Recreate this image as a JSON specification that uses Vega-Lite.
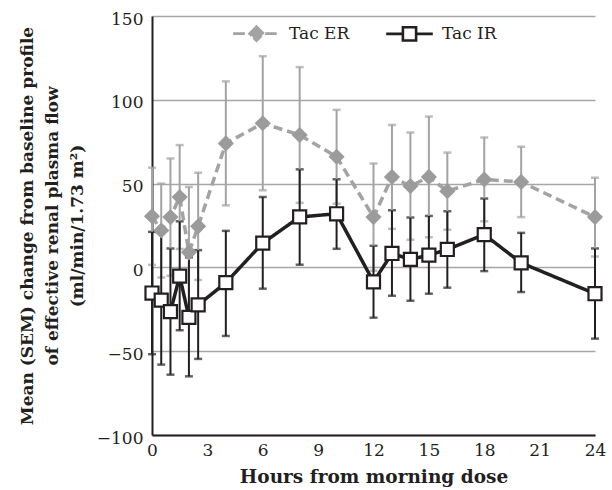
{
  "$schema": "https://vega.github.io/schema/vega-lite/v6.json",
  "width": 443,
  "height": 419,
  "autosize": {"type": "none"},
  "padding": {"left": 152, "top": 16, "right": 17, "bottom": 55},
  "config": {"view": {"stroke": null}, "font": "DejaVu Serif"},
  "data": {
    "values": [
      {"group": "Tac ER", "hour": 0, "mean": 30.5, "lower": 1.5, "upper": 59.5},
      {"group": "Tac ER", "hour": 0.5, "mean": 22, "lower": -6, "upper": 50},
      {"group": "Tac ER", "hour": 1, "mean": 30, "lower": -5, "upper": 65},
      {"group": "Tac ER", "hour": 1.5, "mean": 42, "lower": 11, "upper": 73},
      {"group": "Tac ER", "hour": 2, "mean": 9, "lower": -30, "upper": 48},
      {"group": "Tac ER", "hour": 2.5, "mean": 24.5, "lower": -7.5, "upper": 56.5},
      {"group": "Tac ER", "hour": 4, "mean": 74, "lower": 37, "upper": 111},
      {"group": "Tac ER", "hour": 6, "mean": 86, "lower": 46, "upper": 126},
      {"group": "Tac ER", "hour": 8, "mean": 79, "lower": 38.5, "upper": 119.5},
      {"group": "Tac ER", "hour": 10, "mean": 66, "lower": 38, "upper": 94},
      {"group": "Tac ER", "hour": 12, "mean": 30, "lower": -2, "upper": 62},
      {"group": "Tac ER", "hour": 13, "mean": 54, "lower": 23, "upper": 85},
      {"group": "Tac ER", "hour": 14, "mean": 48.5, "lower": 16.5, "upper": 80.5},
      {"group": "Tac ER", "hour": 15, "mean": 54, "lower": 18, "upper": 90},
      {"group": "Tac ER", "hour": 16, "mean": 45.5, "lower": 22.5, "upper": 68.5},
      {"group": "Tac ER", "hour": 18, "mean": 52.5, "lower": 27.5, "upper": 77.5},
      {"group": "Tac ER", "hour": 20, "mean": 51, "lower": 30, "upper": 72},
      {"group": "Tac ER", "hour": 24, "mean": 30, "lower": 6.5, "upper": 53.5},
      {"group": "Tac IR", "hour": 0, "mean": -15.3, "lower": -51.8, "upper": 21.2},
      {"group": "Tac IR", "hour": 0.5, "mean": -19.5, "lower": -58, "upper": 21},
      {"group": "Tac IR", "hour": 1, "mean": -26.4, "lower": -64, "upper": 11.3},
      {"group": "Tac IR", "hour": 1.5, "mean": -5.2, "lower": -37.5, "upper": 27.5},
      {"group": "Tac IR", "hour": 2, "mean": -29.8, "lower": -65, "upper": 6},
      {"group": "Tac IR", "hour": 2.5, "mean": -22.4, "lower": -54.6, "upper": 10.3},
      {"group": "Tac IR", "hour": 4, "mean": -9.1, "lower": -40.9, "upper": 21.8},
      {"group": "Tac IR", "hour": 6, "mean": 14.5, "lower": -12.7, "upper": 42},
      {"group": "Tac IR", "hour": 8, "mean": 30.1, "lower": 1.6, "upper": 58.5},
      {"group": "Tac IR", "hour": 10, "mean": 32, "lower": 11.1, "upper": 52.6},
      {"group": "Tac IR", "hour": 12, "mean": -8.6, "lower": -30, "upper": 12.9},
      {"group": "Tac IR", "hour": 13, "mean": 8.3, "lower": -16.9, "upper": 34.1},
      {"group": "Tac IR", "hour": 14, "mean": 4.8, "lower": -19.9, "upper": 29.8},
      {"group": "Tac IR", "hour": 15, "mean": 7.3, "lower": -15.7, "upper": 30.7},
      {"group": "Tac IR", "hour": 16, "mean": 10.7, "lower": -12.1, "upper": 33.5},
      {"group": "Tac IR", "hour": 18, "mean": 19.6, "lower": -2.2, "upper": 41.1},
      {"group": "Tac IR", "hour": 20, "mean": 2.7, "lower": -14.7, "upper": 20.6},
      {"group": "Tac IR", "hour": 24, "mean": -15.7, "lower": -42.5, "upper": 11.3}
    ]
  },
  "encoding": {
    "x": {
      "field": "hour",
      "type": "quantitative",
      "scale": {"domain": [0, 24], "nice": false, "zero": false},
      "axis": {
        "values": [0, 3, 6, 9, 12, 15, 18, 21, 24],
        "grid": false,
        "ticks": false,
        "domainColor": "#231f20",
        "domainWidth": 2,
        "labelFont": "DejaVu Serif",
        "labelFontSize": 17,
        "labelColor": "#231f20",
        "labelPadding": 7,
        "labelFlush": false,
        "title": "Hours from morning dose",
        "titleFont": "DejaVu Serif",
        "titleFontSize": 18.5,
        "titleFontWeight": "bold",
        "titleColor": "#231f20",
        "titlePadding": 9
      }
    }
  },
  "layer": [
    {
      "mark": {"type": "errorbar", "thickness": 2, "ticks": {"size": 8, "thickness": 2.5}},
      "encoding": {
        "y": {
          "field": "lower",
          "type": "quantitative",
          "scale": {"domain": [-100, 150], "nice": false, "zero": false},
          "axis": {
            "values": [-100, -50, 0, 50, 100, 150],
            "grid": true,
            "gridColor": "#a6a6a6",
            "gridWidth": 1.5,
            "ticks": false,
            "domainColor": "#231f20",
            "domainWidth": 2,
            "labelFont": "DejaVu Serif",
            "labelFontSize": 17,
            "labelColor": "#231f20",
            "labelPadding": 9,
            "labelOffset": 3,
            "title": ["Mean (SEM) change from baseline profile", "of effective renal plasma flow", "(ml/min/1.73 m²)"],
            "titleFont": "DejaVu Serif",
            "titleFontSize": 17,
            "titleFontWeight": "bold",
            "titleColor": "#231f20",
            "titleLineHeight": 25,
            "titlePadding": 10
          }
        },
        "y2": {"field": "upper"},
        "color": {
          "field": "group",
          "type": "nominal",
          "scale": {"domain": ["Tac ER", "Tac IR"], "range": ["#a3a3a3", "#231f20"]},
          "legend": {
            "orient": "none",
            "legendX": 81,
            "legendY": -6,
            "direction": "horizontal",
            "title": null,
            "padding": 0,
            "symbolSize": 1936,
            "labelOffset": 9,
            "columnPadding": 32,
            "labelFont": "DejaVu Serif",
            "labelFontSize": 17,
            "labelColor": "#231f20",
            "encode": {
              "symbols": {
                "update": {
                  "shape": {"signal": "datum.value === 'Tac ER' ? 'M-1,0L-0.45,0M0.45,0L1,0M0,-0.32L0.32,0L0,0.32L-0.32,0Z' : 'M-1,0L-0.3,0M0.3,0L1,0M-0.3,-0.3L0.3,-0.3M0.3,-0.3L0.3,0.3M0.3,0.3L-0.3,0.3M-0.3,0.3L-0.3,-0.3'"},
                  "fill": {"signal": "datum.value === 'Tac ER' ? '#9b9b9b' : '#ffffff'"},
                  "stroke": {"signal": "datum.value === 'Tac ER' ? '#9b9b9b' : '#231f20'"},
                  "strokeWidth": {"value": 2.6},
                  "strokeCap": {"value": "square"},
                  "size": {"value": 1936},
                  "opacity": {"value": 1},
                  "fillOpacity": {"value": 1},
                  "strokeOpacity": {"value": 1}
                }
              }
            }
          }
        }
      }
    },
    {
      "mark": {"type": "line", "strokeWidth": 3.5},
      "encoding": {
        "y": {"field": "mean", "type": "quantitative"},
        "color": {"field": "group", "type": "nominal"},
        "strokeDash": {
          "field": "group",
          "type": "nominal",
          "scale": {"domain": ["Tac ER", "Tac IR"], "range": [[9, 5], [1, 0]]},
          "legend": null
        }
      }
    },
    {
      "transform": [{"filter": "datum.group === 'Tac ER'"}],
      "mark": {"type": "point", "shape": "diamond", "size": 260, "filled": true, "opacity": 1, "color": "#9b9b9b"},
      "encoding": {
        "y": {"field": "mean", "type": "quantitative"}
      }
    },
    {
      "transform": [{"filter": "datum.group === 'Tac IR'"}],
      "mark": {"type": "point", "shape": "square", "size": 170, "filled": false, "fill": "#ffffff", "fillOpacity": 1, "opacity": 1, "stroke": "#231f20", "strokeWidth": 2.2},
      "encoding": {
        "y": {"field": "mean", "type": "quantitative"}
      }
    }
  ]
}
